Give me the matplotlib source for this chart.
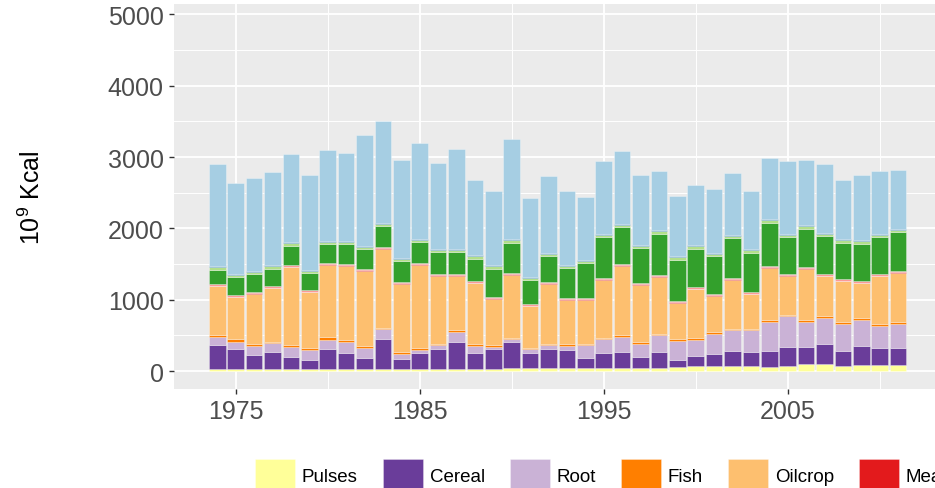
import numpy as np
import matplotlib
matplotlib.use("Agg")
from matplotlib import pyplot as plt

plt.rcParams['font.family'] = ['Liberation Sans', 'DejaVu Sans']
plt.rcParams['mathtext.fontset'] = 'custom'
plt.rcParams['mathtext.rm'] = 'Liberation Sans'

years = list(range(1974, 2012))

# 10^9 Kcal per food group
pulses = [26, 26, 26, 26, 26, 26, 26, 26, 26, 26, 26, 26, 26, 26, 26, 26,
          44, 44, 40, 40, 40, 40, 40, 40, 44, 54, 68, 68, 68, 68, 58, 72,
          105, 105, 72, 91, 91, 82]
cereal = [345, 280, 196, 238, 172, 130, 280, 233, 163, 429, 140, 224, 280, 382, 233, 289,
          364, 215, 275, 252, 144, 219, 228, 154, 224, 98, 140, 177, 219, 205, 224, 266,
          233, 271, 210, 257, 238, 247]
root = [103, 107, 130, 126, 136, 140, 130, 149, 131, 131, 74, 42, 56, 140, 93, 23,
        38, 47, 47, 65, 187, 196, 210, 186, 234, 266, 233, 280, 285, 299, 411, 430,
        346, 373, 379, 369, 299, 332]
fish = [37, 33, 28, 23, 28, 28, 38, 33, 28, 23, 28, 37, 23, 24, 24, 24,
        23, 23, 23, 23, 14, 14, 24, 24, 23, 28, 23, 23, 23, 23, 28, 23,
        28, 24, 28, 28, 28, 28]
oilcrop = [677, 588, 701, 747, 1092, 780, 1017, 1036, 1059, 1102, 953, 1162, 952, 765, 854, 649,
           882, 579, 836, 621, 616, 812, 975, 803, 798, 509, 682, 509, 686, 481, 724, 546,
           719, 555, 569, 485, 672, 686]
meat = [10] * 38
milk = [18] * 38
vegetable = [205, 257, 247, 247, 275, 243, 257, 271, 271, 294, 289, 290, 304, 304, 317, 396,
             421, 336, 364, 416, 486, 570, 514, 490, 575, 578, 541, 528, 556, 555, 607, 514,
             537, 537, 514, 528, 523, 546]
fruit = [35] * 38
sugar = [12] * 38
other = [1438, 1274, 1302, 1302, 1237, 1325, 1270, 1237, 1554, 1423, 1368, 1339, 1199, 1400, 1055, 1041,
         1400, 1106, 1078, 1031, 877, 1022, 1022, 980, 835, 840, 840, 886, 863, 817, 863, 1017,
         909, 966, 825, 919, 873, 821]

groups = ['Pulses', 'Cereal', 'Root', 'Fish', 'Oilcrop', 'Meat', 'Milk',
          'Vegetable', 'Fruit', 'Sugar', 'Other']
series = [pulses, cereal, root, fish, oilcrop, meat, milk, vegetable, fruit, sugar, other]
colors = ['#FFFF99', '#6A3D9A', '#CAB2D6', '#FF7F00', '#FDBF6F', '#E31A1C', '#FB9A99',
          '#33A02C', '#B2DF8A', '#1F78B4', '#A6CEE3']

fig = plt.figure(figsize=(9.35, 4.89), dpi=100)
ax = fig.add_axes([174 / 935, 99 / 489, 768 / 935, 385 / 489])
ax.set_facecolor('#EBEBEB')

bottom = np.zeros(len(years))
for name, vals, col in zip(groups, series, colors):
    ax.bar(years, vals, width=0.9, bottom=bottom, color=col, label=name,
           edgecolor=(1, 1, 1, 0.35), linewidth=0.6, zorder=3)
    bottom += np.array(vals)

ax.set_xlim(1971.65, 2013.39)
ax.set_ylim(-250, 5145)
ax.set_xticks([1975, 1985, 1995, 2005])
ax.set_xticks([1980, 1990, 2000, 2010], minor=True)
ax.set_yticks([0, 1000, 2000, 3000, 4000, 5000])
ax.set_yticks([500, 1500, 2500, 3500, 4500], minor=True)
ax.grid(which='major', color='white', linewidth=1.3, zorder=0)
ax.grid(which='minor', color='white', linewidth=0.7, zorder=0)
ax.set_axisbelow(True)
for s in ax.spines.values():
    s.set_visible(False)
ax.tick_params(which='major', length=3.5, width=1, color='#333333',
               labelsize=18, labelcolor='#4D4D4D', pad=4)
ax.tick_params(which='minor', length=0)

ax.set_ylabel(r'$\mathregular{10^9}$ Kcal', fontsize=18, color='black')
ax.yaxis.set_label_coords(-0.168, 0.5)

# legend runs off the right edge, as in the original
fig.legend(loc='upper left', bbox_to_anchor=(255 / 935, 1 - 460 / 489), ncol=11,
           frameon=False, fontsize=13.5, handlelength=2.13, handleheight=2.25,
           handletextpad=0.37, columnspacing=1.33, borderpad=0, borderaxespad=0)

fig.savefig('out.png', dpi=100)
